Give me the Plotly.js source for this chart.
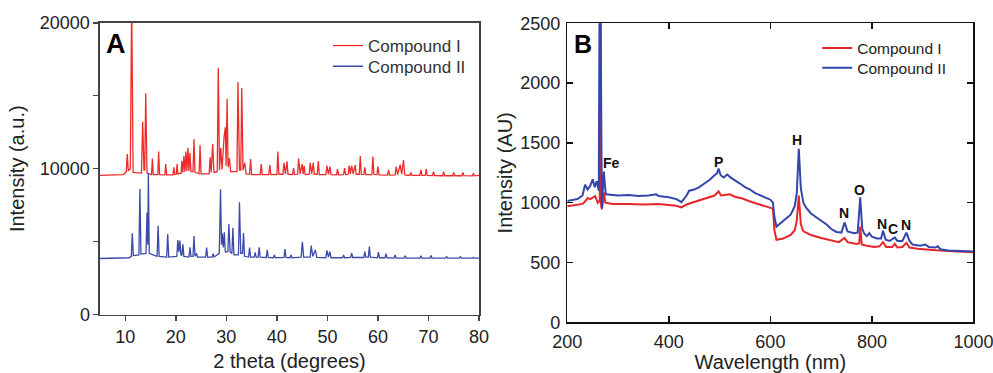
<!DOCTYPE html>
<html>
<head>
<meta charset="utf-8">
<script src="https://cdn.plot.ly/plotly-3.0.1.min.js"></script>
<style>html,body{margin:0;padding:0;background:#fff;}#chart{width:993px;height:373px;}</style>
</head>
<body>
<div id="chart"></div>
<script>
// Panel A: powder XRD, [2theta (deg), intensity (a.u.)]
const xrdCompoundI = [
[5,9550],[8,9560],[9.6,9600],[10.2,9800],[10.4,11000],[10.6,9850],[11.0,10000],[11.27,21500],[11.55,9750],
[13.2,9700],[13.45,13220],[13.7,9900],[13.85,9900],[14.05,15165],[14.3,9700],[15.2,9600],[15.36,10690],[15.55,9600],
[16.45,9600],[16.6,11170],[16.8,9600],[17.85,9580],[18.0,10320],[18.2,9580],[19.45,9580],[19.6,10100],[19.8,9600],
[20.1,9620],[20.25,10320],[20.4,9650],[21.05,9700],[21.2,10550],[21.4,9750],[21.6,10870],[21.8,9800],[22.0,11170],
[22.2,9850],[22.4,11440],[22.6,9850],[22.8,11100],[23.0,9800],[23.4,9800],[23.6,12010],[23.8,9750],[24.6,9650],
[24.8,11600],[25.0,9650],[26.6,9650],[26.8,10780],[27.0,9750],[27.3,11690],[27.55,9750],[28.2,9800],[28.4,16920],
[28.65,9900],[28.9,11430],[29.15,9950],[29.55,12190],[29.8,12840],[29.95,10200],[30.15,14800],[30.35,10100],
[30.6,10720],[30.85,9800],[32.1,9800],[32.3,15940],[32.6,9900],[32.85,9900],[33.05,15530],[33.3,9900],[33.65,10400],
[33.9,9650],[34.6,9620],[34.8,10670],[35.0,9600],[36.7,9600],[36.9,10320],[37.1,9600],[38.4,9600],[38.6,10250],
[38.8,9600],[40.0,9600],[40.2,11170],[40.4,9620],[41.2,9620],[41.4,10400],[41.7,9650],[42.0,10510],[42.2,9620],
[43.1,9600],[43.3,10050],[43.5,9600],[44.1,9620],[44.3,10700],[44.6,9650],[45.0,10320],[45.2,9650],[45.4,10190],
[45.6,9600],[46.4,9620],[46.6,10400],[46.9,9650],[47.2,10400],[47.4,9620],[48.0,9620],[48.2,10530],[48.4,9600],
[49.7,9600],[49.9,10220],[50.2,9620],[50.5,10150],[50.7,9600],[51.8,9580],[52.0,9980],[52.2,9580],[53.2,9600],
[53.4,10050],[53.6,9600],[54.1,9620],[54.3,10220],[54.55,9650],[54.8,10220],[55.1,9650],[55.5,10250],[55.7,9620],
[56.3,9620],[56.5,10870],[56.7,9620],[57.2,9600],[57.4,10100],[57.6,9600],[58.8,9600],[59.0,10830],[59.2,9620],
[59.8,9600],[60.0,10150],[60.2,9580],[61.9,9560],[62.1,9920],[62.3,9560],[63.4,9580],[63.6,10150],[63.9,9600],
[64.4,10280],[64.7,9620],[65.05,10600],[65.3,9580],[66.3,9540],[66.5,9740],[66.7,9540],[68.3,9540],[68.5,9920],
[68.7,9540],[69.35,9540],[69.55,9980],[69.75,9540],[70.8,9530],[71.0,9800],[71.2,9530],[72.8,9520],[73.0,9800],
[73.2,9520],[74.8,9520],[75.0,9740],[75.2,9520],[76.6,9520],[76.8,9740],[77.0,9520],[78.7,9510],[78.9,9700],
[79.1,9510],[80,9550]
];
const xrdCompoundII = [
[5,3850],[9,3860],[10.8,3900],[11.2,4000],[11.4,5575],[11.6,4050],[12.7,4100],[12.9,8610],[13.1,4150],[14.1,4200],
[14.3,7000],[14.45,4800],[14.57,9690],[14.75,4200],[16.3,4000],[16.5,6100],[16.7,4000],[18.2,3950],[18.4,5530],
[18.6,3950],[20.2,4000],[20.4,5120],[20.6,4300],[20.8,5080],[21.0,4100],[21.2,4050],[21.4,4830],[21.6,4000],
[22.6,3950],[22.8,4620],[23.0,4000],[23.4,4000],[23.6,5390],[23.8,4000],[24.1,4200],[24.3,3950],[25.9,3950],
[26.1,4600],[26.3,3950],[27.2,3950],[27.4,4180],[27.6,3950],[28.6,4200],[28.85,8590],[29.05,4800],[29.2,5570],
[29.4,4600],[29.6,5640],[29.8,4300],[30.3,4300],[30.5,6210],[30.75,4300],[31.1,4200],[31.3,5960],[31.5,4100],
[32.4,4100],[32.6,7700],[32.85,4200],[33.2,4200],[33.4,5600],[33.6,4000],[34.4,3950],[34.6,4600],[34.8,3950],
[35.5,3950],[35.7,4270],[35.9,3950],[36.3,3950],[36.5,4620],[36.7,3950],[37.9,3920],[38.1,4440],[38.3,3920],
[39.3,3900],[39.5,4100],[39.7,3900],[41.4,3920],[41.6,4490],[41.8,3920],[42.6,3900],[42.8,4100],[43.0,3900],
[44.8,3950],[45.05,5000],[45.3,3950],[46.6,3950],[46.8,4740],[47.1,4000],[47.6,4440],[47.9,3920],[49.7,3900],
[49.9,4400],[50.2,3950],[50.5,4330],[50.7,3900],[53.0,3900],[53.2,4100],[53.4,3900],[54.6,3920],[54.8,4220],
[55.0,3920],[57.2,3920],[57.4,4330],[57.6,3950],[58.1,3950],[58.3,4670],[58.5,3950],[59.9,3900],[60.1,4290],
[60.3,3900],[61.4,3900],[61.6,4180],[61.8,3900],[63.2,3880],[63.4,4100],[63.6,3880],[65.2,3880],[65.4,4030],
[65.6,3880],[68.3,3880],[68.5,4030],[68.7,3880],[70.3,3880],[70.5,4060],[70.7,3880],[73.4,3870],[73.6,3970],
[73.8,3870],[76.1,3870],[76.3,3970],[76.5,3870],[78.7,3870],[78.9,3930],[79.1,3870],[80,3880]
];
// Panel B: LIBS spectra, [wavelength (nm), intensity (AU)]
const libsCompoundI = [
[200,970],[210,975],[220,980],[230,990],[235,1010],[240,1040],[245,1030],[250,1045],[255,1055],[260,1000],[264,1020],
[264.6,2700],[265.4,2700],[266,1000],[268,945],[270,1000],[272,1085],[275,1000],[290,990],[320,990],[350,985],
[380,990],[400,985],[415,975],[425,960],[435,985],[445,1000],[460,1020],[475,1040],[490,1060],[498,1095],[503,1060],
[510,1065],[520,1070],[530,1050],[545,1035],[560,1010],[575,990],[590,975],[600,960],[605,950],[608,770],[612,690],
[625,700],[640,730],[648,770],[652,850],[656,1060],[660,820],[665,760],[680,730],[700,705],[720,685],[735,670],
[746,705],[752,670],[770,655],[775,660],[777,800],[780,650],[790,640],[805,630],[815,635],[822,670],[828,630],
[840,630],[845,655],[850,625],[860,630],[868,665],[874,625],[890,615],[920,605],[950,595],[1000,585]
];
const libsCompoundII = [
[200,1014],[210,1020],[220,1030],[230,1060],[235,1150],[240,1110],[245,1140],[250,1195],[254,1130],[258,1180],
[262,1100],[263.5,2700],[265.5,2700],[268,955],[270,1080],[272,1260],[274,1150],[276,1070],[290,1065],[300,1060],
[320,1065],[340,1055],[360,1060],[375,1070],[380,1055],[400,1045],[415,1030],[425,1005],[435,1060],[440,1100],
[450,1110],[460,1130],[470,1160],[480,1190],[490,1230],[495,1245],[498,1285],[502,1230],[508,1210],[515,1235],
[522,1210],[530,1190],[540,1160],[550,1130],[560,1110],[570,1080],[580,1060],[590,1040],[600,1025],[605,1000],
[608,880],[612,800],[620,830],[630,860],[640,900],[648,970],[652,1080],[656,1450],[660,1120],[665,1000],[670,960],
[680,910],[690,880],[700,850],[710,820],[720,780],[730,755],[740,750],[746,835],[752,760],[765,745],[772,750],
[777,1045],[781,780],[785,740],[790,720],[795,745],[800,715],[810,700],[818,700],[822,765],[827,690],[835,680],
[845,710],[850,680],[860,680],[868,750],[874,680],[880,650],[895,640],[905,650],[912,630],[925,625],[930,635],
[935,610],[950,600],[970,598],[1000,592]
];
const seriesNames = ['Compound I', 'Compound II'];
const elementLabels = ['Fe', 'P', 'H', 'N', 'O', 'N', 'C', 'N'];
const elementLabelWavelength = [287.5, 498.3, 652.6, 745.2, 774.8, 819.5, 841.2, 867.4];
const elementLabelIntensity = [1334, 1340, 1524, 916, 1106, 822, 780, 813];

const RED = '#ee2b2b', BLUE = '#3a4aa8';
const col = (arr, i) => arr.map(p => p[i]);

const traces = [
  {x: col(xrdCompoundI,0), y: col(xrdCompoundI,1), type:'scatter', mode:'lines', name: seriesNames[0],
   line:{color:RED, width:1.3}, xaxis:'x', yaxis:'y', legend:'legend'},
  {x: col(xrdCompoundII,0), y: col(xrdCompoundII,1), type:'scatter', mode:'lines', name: seriesNames[1],
   line:{color:BLUE, width:1.3}, xaxis:'x', yaxis:'y', legend:'legend2'},
  {x: col(libsCompoundI,0), y: col(libsCompoundI,1), type:'scatter', mode:'lines', name: seriesNames[0],
   line:{color:'#e8262a', width:2}, xaxis:'x2', yaxis:'y2', legend:'legend3'},
  {x: col(libsCompoundII,0), y: col(libsCompoundII,1), type:'scatter', mode:'lines', name: seriesNames[1],
   line:{color:'#3346ad', width:2}, xaxis:'x2', yaxis:'y2', legend:'legend4'}
];

const annotations = elementLabels.map((t, i) => ({
  text: '<b>' + t + '</b>', x: elementLabelWavelength[i], y: elementLabelIntensity[i], xref:'x2', yref:'y2',
  showarrow:false, font:{size:14, color:'#111'}
}));
annotations.push({text:'<b>A</b>', x:0.01, y:0.985, xref:'x domain', yref:'y domain', xanchor:'left', yanchor:'top',
  showarrow:false, font:{size:27, color:'#000'}});
annotations.push({text:'<b>B</b>', x:0.012, y:0.985, xref:'x2 domain', yref:'y2 domain', xanchor:'left', yanchor:'top',
  showarrow:false, font:{size:25, color:'#000'}});

const axCommon = {showgrid:false, zeroline:false, showline:true, linewidth:1.5, tickwidth:1.5,
  exponentformat:'none', separatethousands:false, ticklabeloverflow:'allow', tickfont:{size:18, color:'#222'}};
const legCommon = {xanchor:'left', yanchor:'middle', bgcolor:'rgba(0,0,0,0)', itemwidth:30, borderwidth:0};
const layout = {
  width:993, height:373, margin:{l:0, r:0, t:0, b:0},
  paper_bgcolor:'#fff', plot_bgcolor:'#fff',
  font:{family:'Liberation Sans, Arial, sans-serif', color:'#222'},
  showlegend:true,
  xaxis: Object.assign({}, axCommon, {domain:[0.1007,0.4824], range:[5,80], tick0:0, dtick:10, ticks:'outside',
    ticklen:5, linecolor:'#444', tickcolor:'#444', mirror:true, anchor:'y',
    title:{text:'2 theta (degrees)', font:{size:20, color:'#222'}, standoff:8}}),
  yaxis: Object.assign({}, axCommon, {domain:[0.1563,0.939], range:[0,20000], dtick:10000, ticks:'outside',
    ticklen:5, linecolor:'#444', tickcolor:'#444', mirror:true, anchor:'x', tickformat:'d',
    minor:{dtick:5000, ticks:'outside', ticklen:5, tickcolor:'#444', tickwidth:1.5},
    title:{text:'Intensity (a.u.)', font:{size:20, color:'#222'}, standoff:10}}),
  xaxis2: Object.assign({}, axCommon, {domain:[0.5713,0.9803], range:[200,1000], tick0:200, dtick:200, ticks:'inside',
    ticklen:6, linecolor:'#111', tickcolor:'#111', mirror:'ticks', anchor:'y2', ticklabelstandoff:3,
    title:{text:'Wavelength (nm)', font:{size:20, color:'#222'}, standoff:2}}),
  yaxis2: Object.assign({}, axCommon, {domain:[0.136,0.9375], range:[0,2500], dtick:500, ticks:'inside',
    ticklen:6, linecolor:'#111', tickcolor:'#111', mirror:'ticks', anchor:'x2', ticklabelstandoff:2,
    title:{text:'Intensity (AU)', font:{size:20, color:'#222'}, standoff:2}}),
  legend: Object.assign({}, legCommon, {x:0.3303, y:0.8767, font:{size:17, color:'#333'}}),
  legend2: Object.assign({}, legCommon, {x:0.3303, y:0.8212, font:{size:17, color:'#333'}}),
  legend3: Object.assign({}, legCommon, {x:0.823, y:0.8705, font:{size:15.5, color:'#222'}}),
  legend4: Object.assign({}, legCommon, {x:0.823, y:0.8169, font:{size:15.5, color:'#222'}}),
  annotations: annotations
};
Plotly.newPlot('chart', traces, layout, {displayModeBar:false, staticPlot:true});
</script>
</body>
</html>
